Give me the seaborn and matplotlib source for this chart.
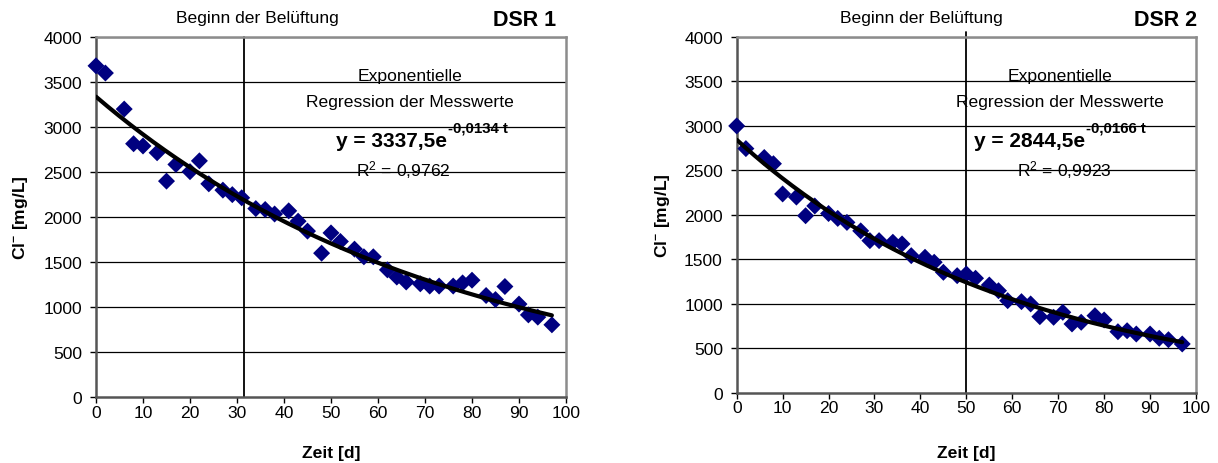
import numpy as np
import pandas as pd
import matplotlib
matplotlib.use("Agg")
import matplotlib.pyplot as plt
import seaborn as sns

# Chloride concentration over time for two reactors
dsr1_days = [0, 2, 6, 8, 10, 13, 15, 17, 20, 22, 24, 27, 29, 31, 34, 36, 38, 41,
             43, 45, 48, 50, 52, 55, 57, 59, 62, 64, 66, 69, 71, 73, 76, 78, 80,
             83, 85, 87, 90, 92, 94, 97]
dsr1_cl = [3680, 3600, 3200, 2815, 2790, 2715, 2400, 2585, 2505, 2625, 2370, 2300,
           2250, 2215, 2095, 2085, 2035, 2070, 1955, 1845, 1600, 1825, 1730, 1645,
           1560, 1560, 1415, 1335, 1280, 1260, 1235, 1235, 1235, 1270, 1300, 1130,
           1085, 1230, 1035, 915, 890, 805]

dsr2_days = [0, 2, 6, 8, 10, 13, 15, 17, 20, 22, 24, 27, 29, 31, 34, 36, 38, 41,
             43, 45, 48, 50, 52, 55, 57, 59, 62, 64, 66, 69, 71, 73, 75, 78, 80,
             83, 85, 87, 90, 92, 94, 97]
dsr2_cl = [3000, 2745, 2645, 2575, 2235, 2200, 1990, 2100, 2015, 1960, 1915, 1820,
           1710, 1710, 1692, 1673, 1541, 1523, 1467, 1354, 1316, 1335, 1287, 1211,
           1147, 1035, 1024, 998, 855, 848, 904, 773, 792, 866, 818, 686, 697, 660,
           660, 612, 596, 548]

# Exponential regression parameters (y = a * exp(-b t))
fit_a = [3337.5, 2844.5]
fit_b = [0.0134, 0.0166]
fit_r2 = ["0,9762", "0,9923"]
aeration_start = [31.5, 50]
reactor_names = ["DSR 1", "DSR 2"]

x_ticks = list(range(0, 101, 10))
y_ticks = list(range(0, 4001, 500))

sns.set_style("white")
plt.rcParams["font.family"] = ["Liberation Sans", "DejaVu Sans"]
plt.rcParams["mathtext.fontset"] = "custom"
plt.rcParams["mathtext.rm"] = "Liberation Sans"
plt.rcParams["mathtext.bf"] = "Liberation Sans:bold"
plt.rcParams["mathtext.it"] = "Liberation Sans:italic"
for key in ["text.color", "axes.labelcolor", "xtick.color", "ytick.color"]:
    plt.rcParams[key] = "black"

FS = 12.6
W, H = 1218, 464
fig = plt.figure(figsize=(W / 100, H / 100), dpi=100)

boxes = [
    (96, 566, 38, 398.3),
    (736.7, 1196, 38, 393.7),
]

datasets = [(dsr1_days, dsr1_cl), (dsr2_days, dsr2_cl)]

title_x = [257, 921]
name_x = [556, 1197]
note_x = [410, 1060]
eq_split = [447, 1085]
r2_x = [403, 1064]
ylabel_x = [20, 662]
vline_top = [1.0, 1.015]


def ftext(px, py, s, **kw):
    fig.text(px / W, 1 - py / H, s, **kw)


for i in range(2):
    x0, x1, y0, y1 = boxes[i]
    ax = fig.add_axes([x0 / W, 1 - y1 / H, (x1 - x0) / W, (y1 - y0) / H])
    days, cl = datasets[i]
    df = pd.DataFrame({"Zeit": days, "Cl": cl})

    # horizontal grid
    for yv in y_ticks[1:]:
        ax.axhline(yv, color="black", lw=0.9, zorder=0)

    # start of aeration
    ax.axvline(aeration_start[i], ymax=vline_top[i], color="black", lw=1.3,
               zorder=1, clip_on=False)

    sns.scatterplot(data=df, x="Zeit", y="Cl", marker="D", s=75, color="#000080",
                    edgecolor="none", linewidth=0, ax=ax, zorder=3, legend=False,
                    clip_on=False)

    t = np.linspace(0, max(days), 200)
    fit = pd.DataFrame({"Zeit": t, "Cl": fit_a[i] * np.exp(-fit_b[i] * t)})
    sns.lineplot(data=fit, x="Zeit", y="Cl", color="black", lw=3.0, ax=ax, zorder=4)

    ax.set_xlim(0, 100)
    ax.set_ylim(0, 4000)
    ax.set_xticks(x_ticks)
    ax.set_yticks(y_ticks)
    ax.set_xlabel("")
    ax.set_ylabel("")
    ax.tick_params(axis="both", which="both", direction="out", length=4, width=1,
                   color="black", labelsize=FS, bottom=True, left=True)
    ax.tick_params(axis="x", pad=1.5)
    ax.tick_params(axis="y", pad=6)

    for side in ["top", "right"]:
        ax.spines[side].set_color("#8c8c8c")
        ax.spines[side].set_linewidth(1.8)
    for side in ["left", "bottom"]:
        ax.spines[side].set_color("#555555")
        ax.spines[side].set_linewidth(1.8)

    ftext(title_x[i], 18, "Beginn der Belüftung", ha="center", va="center", fontsize=FS)
    ftext(name_x[i], 20, reactor_names[i], ha="right", va="center", fontsize=15.5,
          fontweight="bold")
    ftext(note_x[i], 77, "Exponentielle", ha="center", va="center", fontsize=FS)
    ftext(note_x[i], 103, "Regression der Messwerte", ha="center", va="center",
          fontsize=FS)

    # regression equation: base text plus raised exponent
    a_str = f"{fit_a[i]:.1f}".replace(".", ",")
    b_str = f"-{fit_b[i]:.4f} t".replace(".", ",")
    ftext(eq_split[i], 142, "y = " + a_str + "e", ha="right", va="center",
          fontsize=15, fontweight="bold")
    ftext(eq_split[i] + 1, 129, b_str, ha="left", va="center",
          fontsize=10.8, fontweight="bold")

    ftext(r2_x[i], 170, r"R$^{2}$ = " + fit_r2[i], ha="center", va="center",
          fontsize=FS)
    ftext((x0 + x1) / 2, 454, "Zeit [d]", ha="center", va="center", fontsize=FS,
          fontweight="bold")
    ftext(ylabel_x[i], (y0 + y1) / 2, r"Cl$^{\mathbf{-}}$ [mg/L]", ha="center",
          va="center", rotation=90, fontsize=FS, fontweight="bold")

fig.savefig("out.png", dpi=100, facecolor="white")
